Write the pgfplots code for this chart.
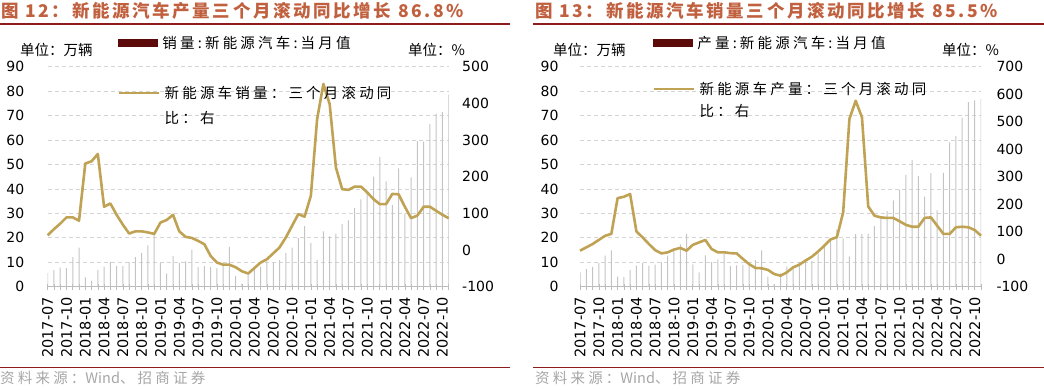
\documentclass[border=0pt]{standalone}
\usepackage{fontspec}
\usepackage{pgfplots}
\usepackage{pgfplotstable}
\pgfplotsset{compat=1.18}
\setmainfont{DejaVu Sans}
\newfontfamily\cjk{Noto Sans CJK SC}
\newfontfamily\cjksp[LetterSpace=22]{Noto Sans CJK SC}
\newfontfamily\cjkt[LetterSpace=15]{Noto Sans CJK SC}
\definecolor{linegold}{HTML}{BFA254}
\definecolor{barg}{HTML}{C4C4C4}
\definecolor{legred}{HTML}{5C0A0A}
\definecolor{titlec}{HTML}{C0603F}
\definecolor{rulec}{HTML}{8E1C1C}
\definecolor{gridc}{HTML}{D4D4D4}
\definecolor{axgray}{HTML}{BBBBBB}
\definecolor{srcgray}{HTML}{A6A6A6}

\pgfplotstableread{
i sales prod ys yp
0 5.6 5.9 40 31
1 6.8 7.2 57 43
2 7.8 8.1 72 55
3 7.6 9.7 89 70
4 12.1 12.7 89 85
5 16.0 14.9 80 92
6 3.8 4.1 236 222
7 2.5 3.9 242 227
8 6.8 6.8 262 237
9 8.2 8.6 118 101
10 10.2 9.6 127 79
11 8.4 8.6 96 55
12 8.4 9.0 69 33
13 10.1 9.9 45 21
14 12.1 12.7 51 25
15 13.8 14.6 51 35
16 16.9 17.3 48 41
17 22.5 21.6 44 31
18 9.6 9.1 75 52
19 5.3 5.9 82 61
20 12.6 12.8 96 70
21 9.7 10.2 51 37
22 10.4 11.2 36 25
23 15.2 13.4 33 25
24 8.0 8.4 25 22
25 8.5 8.7 16 21
26 8.0 8.9 -16 1
27 7.5 9.5 -34 -18
28 9.5 11.0 -40 -32
29 16.3 14.9 -40 -33
30 4.4 4.1 -47 -39
31 1.3 1.0 -58 -54
32 5.3 5.5 -64 -60
33 7.2 8.2 -49 -48
34 8.2 8.3 -34 -30
35 10.4 10.2 -25 -20
36 9.8 10.0 -9 -5
37 10.9 10.5 7 9
38 13.8 13.6 34 28
39 16.0 16.4 66 49
40 20.0 19.8 98 72
41 24.8 23.5 91 80
42 17.9 19.7 148 170
43 11.0 12.4 357 510
44 22.6 21.5 453 576
45 20.6 21.6 398 516
46 21.7 21.7 225 192
47 25.6 24.8 166 158
48 27.1 28.4 164 152
49 32.1 30.9 173 150
50 35.7 35.3 173 150
51 38.3 39.7 157 138
52 45.0 45.7 139 125
53 53.1 51.8 125 118
54 43.1 45.2 125 118
55 33.4 36.8 153 150
56 48.4 46.5 152 152
57 29.9 31.2 118 122
58 44.7 46.6 87 92
59 59.6 59.0 94 92
60 59.3 61.7 118 116
61 66.6 69.1 118 118
62 70.8 75.5 107 116
63 71.4 76.2 96 106
64 78.6 76.8 86.8 85.5
}\nev

\pgfplotsset{
  common/.style={scale only axis, width=401pt, height=220pt, xmin=0, xmax=64,
    /pgf/number format/assume math mode=true,
    tick label style={font=\fontsize{14}{16}\selectfont}},
  baraxis/.style={common, ymin=0, ymax=90, ytick={0,10,...,90},
    axis x line*=bottom, axis y line*=left,
    y axis line style={draw=none,-}, ytick style={draw=none},
    x axis line style={draw=axgray, line width=0.8pt, -},
    xtick={0,3,...,63},
    xticklabels={2017-07,2017-10,2018-01,2018-04,2018-07,2018-10,2019-01,2019-04,2019-07,2019-10,2020-01,2020-04,2020-07,2020-10,2021-01,2021-04,2021-07,2021-10,2022-01,2022-04,2022-07,2022-10},
    minor xtick={0,1,...,64},
    xtick style={draw=axgray, line width=0.6pt},
    tick align=center, major tick length=6pt, minor tick length=6pt,
    ymajorgrids, grid style={draw=gridc, dash pattern=on 4pt off 3pt, line width=0.8pt},
    xticklabel style={rotate=90, anchor=east, font=\fontsize{14.5}{16}\selectfont, xshift=-4pt},
    legend style={draw=none, fill=none, inner sep=0pt, outer sep=0pt,
      nodes={inner sep=0pt, outer sep=0pt}, cells={anchor=base west},
      /tikz/every odd column/.style={column sep=5pt},
      font=\cjksp\fontsize{14.5}{17}\selectfont}},
  lineaxis/.style={common, axis y line*=right, hide x axis,
    y axis line style={draw=none,-}, ytick style={draw=none}, clip=false,
    legend style={draw=none, fill=none, inner sep=0pt, outer sep=0pt,
      nodes={inner sep=0pt, outer sep=0pt}, cells={anchor=base west},
      /tikz/every odd column/.style={column sep=4pt}}}
}

\begin{document}
\begin{tikzpicture}
\useasboundingbox (0,0) rectangle (1044pt,390pt);

% ---------- left panel ----------
\node[anchor=west, inner sep=0pt, text=titlec, font=\cjkt\bfseries\fontsize{17.5}{20}\selectfont] at (1pt,379.5pt) {图 12：新能源汽车产量三个月滚动同比增长 86.8\%};
\draw[rulec, line width=2pt] (0pt,366pt) -- (510pt,366pt);
\node[anchor=west, inner sep=0pt, font=\cjk\fontsize{14.5}{17}\selectfont] at (20pt,340pt) {单位：万辆};
\node[anchor=west, inner sep=0pt, font=\cjk\fontsize{14.5}{17}\selectfont] at (408pt,340pt) {单位：\%};

\begin{axis}[baraxis, at={(47.7pt,103.3pt)}, anchor=south west,
  yticklabel style={xshift=-17pt},
  legend style={at={(0.1755,1.1077)}, anchor=west}]
\addlegendimage{legend image code/.code={\fill[legred] (0pt,1.8pt) rectangle (39pt,9.2pt);}}
\addlegendentry{销量:新能源汽车:当月值}
\addplot[ybar, bar width=1pt, fill=barg, draw=none, forget plot] table[x=i,y=sales] {\nev};
\end{axis}

\begin{axis}[lineaxis, at={(47.7pt,103.3pt)}, anchor=south west,
  ymin=-100, ymax=500, ytick={-100,0,...,500},
  yticklabel style={xshift=10pt},
  legend style={at={(0.1755,0.912)}, anchor=north west}]
\addplot[linegold, line width=2.6pt, line join=round, no markers,
  legend image code/.code={\draw[linegold, line width=2.6pt] (0pt,5.5pt) -- (40pt,5.5pt);}]
  table[x=i,y=ys] {\nev};
\addlegendentry{\parbox[t]{250pt}{\cjksp\fontsize{14.5}{25}\selectfont 新能源车销量：三个月滚动同\\比：右}}
\end{axis}

\draw[rulec, line width=1.5pt] (0pt,22.7pt) -- (510pt,22.7pt);
\node[anchor=west, inner sep=0pt, text=srcgray, font=\cjksp\fontsize{14.5}{17}\selectfont] at (0pt,12pt) {资料来源：{\cjk Wind}、招商证券};

% ---------- right panel ----------
\node[anchor=west, inner sep=0pt, text=titlec, font=\cjkt\bfseries\fontsize{17.5}{20}\selectfont] at (535pt,379.5pt) {图 13：新能源汽车销量三个月滚动同比增长 85.5\%};
\draw[rulec, line width=2pt] (533pt,366pt) -- (1044pt,366pt);
\node[anchor=west, inner sep=0pt, font=\cjk\fontsize{14.5}{17}\selectfont] at (553pt,340pt) {单位：万辆};
\node[anchor=west, inner sep=0pt, font=\cjk\fontsize{14.5}{17}\selectfont] at (942pt,340pt) {单位：\%};

\begin{axis}[baraxis, at={(580pt,103.3pt)}, anchor=south west,
  yticklabel style={xshift=-15pt},
  legend style={at={(0.182,1.1077)}, anchor=west}]
\addlegendimage{legend image code/.code={\fill[legred] (0pt,1.8pt) rectangle (39pt,9.2pt);}}
\addlegendentry{产量:新能源汽车:当月值}
\addplot[ybar, bar width=1pt, fill=barg, draw=none, forget plot] table[x=i,y=prod] {\nev};
\end{axis}

\begin{axis}[lineaxis, at={(580pt,103.3pt)}, anchor=south west,
  ymin=-100, ymax=700, ytick={-100,0,...,700},
  yticklabel style={xshift=12pt},
  legend style={at={(0.182,0.930)}, anchor=north west}]
\addplot[linegold, line width=2.6pt, line join=round, no markers,
  legend image code/.code={\draw[linegold, line width=2.6pt] (0pt,5.5pt) -- (40pt,5.5pt);}]
  table[x=i,y=yp] {\nev};
\addlegendentry{\parbox[t]{250pt}{\cjksp\fontsize{14.5}{22.5}\selectfont 新能源车产量：三个月滚动同\\比：右}}
\end{axis}

\draw[rulec, line width=1.5pt] (533pt,22.7pt) -- (1044pt,22.7pt);
\node[anchor=west, inner sep=0pt, text=srcgray, font=\cjksp\fontsize{14.5}{17}\selectfont] at (535pt,12pt) {资料来源：{\cjk Wind}、招商证券};
\end{tikzpicture}
\end{document}
